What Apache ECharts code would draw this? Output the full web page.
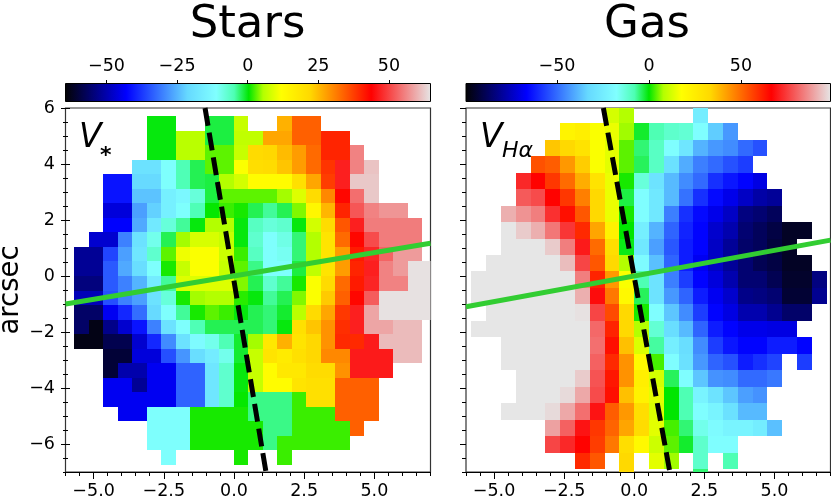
<!DOCTYPE html>
<html>
<head>
<meta charset="utf-8">
<script src="https://cdn.jsdelivr.net/npm/echarts@6/dist/echarts.min.js"></script>
<style>
  html, body { margin: 0; padding: 0; background: #fff; }
  #main { width: 831px; height: 503px; }
</style>
</head>
<body>
<div id="main"></div>
<script>
const n = null;

// velocity per pixel, top row first, leftmost column first (km/s)
const starsRows = [
  [n,n,n,n,n,0,0,n,n,-1.5,-1.5,7,n,n,26,34,34],
  [n,n,n,n,n,0,0,6,6,-1.5,-1.5,6.5,6.5,27,27,34,34,40,40],
  [n,n,n,n,n,0,0,6,6,3,3,7,21.5,22,25,28,33,40,40,55.5],
  [n,n,n,n,-19,-19,-11,-5,-2,3,3,11.5,20.5,21,24,28,33,38.5,46.5,55.5,61.5],
  [n,n,-41,-41,-21,-21,-11,-5,-2,-1.5,5.5,8,12.5,12.5,12.5,20,27,37.5,46.5,62,62],
  [n,n,-41,-41,-23.5,-23.5,-15,-13,-8,-1.5,3,3,3,3,5,9,21,30,43,53.7,62],
  [n,n,-46,-46,-27,-22,-15,-11,-5,0.5,2,1,-2,-4,-2,4,14,25.5,40,51.5,55.5,57.3,57.3],
  [n,n,-43,-43,-26,-17,-8,-4,0,5.5,5.5,0,-6,-8,-7,0,8,21,35,46.5,55,55,55,55],
  [n,-47,-47,-30,-19,-9.5,-2,5,8.5,8.5,7,0,-7,-11,-9,-3,5.5,19,33,43,50.5,55,55,55],
  [-52,-52,-36,-27,-18,-7,3,10.5,11.5,11.5,7.5,2,-6,-11,-10,-3,5.5,19,28,41,47,52.8,57.8,57.8],
  [-52,-52,-34,-26,-20,-11,1,7,11.5,11.5,7,3,-3.5,-11,-11,-1.5,6.5,19,28,40,46.5,55.5,57.8,64.3,64.3],
  [-54,-54,-34,-30,-25,-16,-4,9,9,9,9,4,-2,-7,-4,1,11.5,21.5,33,41,47,55.5,55.5,64.3,64.3],
  [-49,-49,-35,-30,-27,-19,-8,1,5,5.5,5.5,1.5,0,-4,-2,4,11.5,23.5,34,43,52,64.3,64.3,64.3,64.3],
  [-56,-56,-44,-39,-32,-21,-11,-4,1,3,2,0,-2,-3,-1,6,21.5,27,38,46.5,58.7,64.3,64.3,64.3,64.3],
  [-56,-63,-53,-47,-41,-30,-19,-11,-5,-2,-2,-2,-2,-3,0,20,24,29,39,46.5,58.7,58.7,60.7,60.7],
  [-63,-63,-58,-58,-47,-39,-29,-19,-12,-9.5,-5,-1,5,18,26,19,22,29,39.5,39.5,46,60.7,60.7,60.7],
  [n,n,-60,-60,-46,-46,-35,-28,-20,-16,-9.5,-1,7,19,17,20,22,30,30,46,46,46,60.7,60.7],
  [n,n,-60,-50,-50,-44,-44,-33,-33,-18,-7,0,7,12.5,18,18,21,21,29,46,46,46],
  [n,n,-44,-44,-52,-44,-44,-33,-33,-18,-7,0,7,12.5,12.5,19,20,20,34,34,34],
  [n,n,-44,-44,-44,-44,-44,-33,-33,-18,-7,0.5,-3.5,-3.5,-3.5,2,20,20,34,34,34],
  [n,n,n,-44,-44,-11,-11,-11,1,1,1,1,-3.5,-3.5,-3.5,2,2,2,34,34,34],
  [n,n,n,n,n,-11,-11,-11,1,1,1,1,1,-3.5,-3.5,2,2,2,2,34],
  [n,n,n,n,n,-11,-11,-11,1,1,1,1,1,-3.5,2,2,2,2,2],
  [n,n,n,n,n,n,-11,n,n,n,n,1,n,n,2]
];

const gasRows = [
  [n,n,n,n,n,n,n,n,n,12,8,n,n,n,n,-25],
  [n,n,n,n,n,n,22,24,17,15,7,-2,-8,-11,-12,-18,-35,-43],
  [n,n,n,n,n,36,33,29,17,14,4,-5,-10,-18,-28,-39,-43,-45,-50,-54],
  [n,n,n,n,54,52,43,35,17,14,4,-4,-10,-30,-40,-47,-50,-54,-57],
  [n,n,n,72,66,58,50,40,29,15,1,-13,-29,-38,-45,-50,-59,-63,-66,-70],
  [n,n,n,79,77,66,58,47,33,15,-3,-18,-27,-38,-49,-59,-65,-69,-74,-78,-80],
  [n,n,91,87,84,73,64,53,33,15,1,-18,-27,-47,-59,-65,-69,-74,-83,-85,-88],
  [n,n,99,95,91,83,74,60,41,23,0,-24,-39,-51,-61,-66,-73,-77,-85,-88,-91,-95,-95],
  [n,n,99,99,99,95,84,70,50,31,-1,-27,-42,-53,-62,-66,-74,-80,-86,-88,-92,-95],
  [n,99,99,99,99,99,93,76,53,33,8,-19,-37,-51,-62,-68,-74,-80,-85,-89,-91,-95,-95],
  [99,99,99,99,99,99,99,84,61,43,17,-8,-29,-47,-57,-66,-71,-77,-85,-85,-89,-94,-94,-83],
  [99,99,99,99,99,99,99,91,68,48,20,-4,-29,-43,-51,-62,-68,-73,-82,-83,-85,-93,-93,-81],
  [n,99,99,99,99,99,99,98,76,55,33,1,-18,-36,-45,-57,-66,-70,-77,-77,-81,-86,-86],
  [99,99,99,99,99,99,99,99,81,61,33,8,-12,-31,-38,-51,-62,-66,-69,-69,-70,-70],
  [n,n,99,99,99,99,99,99,82,64,37,13,-7,-24,-31,-45,-57,-63,-66,-66,-62,-62,-66],
  [n,n,99,99,99,99,99,99,80,60,44,19,3,-18,-30,-43,-51,-54,-62,-59,-56,n,-57],
  [n,n,n,99,99,99,99,95,78,63,44,24,12,-4,-18,-36,-44,-45,-50,-50,-48],
  [n,n,n,99,99,99,97,90,77,64,37,23,14,0,-8,-22,-29,-36,-42,-44],
  [n,n,99,99,99,97,90,82,69,52,43,31,13,0,-8,-18,-22,-30,-38,-38],
  [n,n,n,n,n,89,80,69,58,51,41,32,14,3,-5,-15,-19,-22,-22,-25,-37],
  [n,n,n,n,n,76,72,66,57,48,31,20,11,4,-2,-11,-18,-18],
  [n,n,n,n,n,n,n,60,53,n,33,n,14,7,n,-11,n,-8],
  [n,n,n,n,n,n,n,n,n,n,33,n,n,n,n,-5]
];

const starsRange = [-64.5, 64.7];
const gasRange = [-99.5, 98.7];
const starsBarTicks = [-50, -25, 0, 25, 50];
const gasBarTicks = [-50, 0, 50];
const xTicks = [-5, -2.5, 0, 2.5, 5];
const yTicks = [-6, -4, -2, 0, 2, 4, 6];
const xMinor = [-6, -5.5, -5, -4.5, -4, -3.5, -3, -2.5, -2, -1.5, -1, -0.5, 0, 0.5, 1, 1.5, 2, 2.5, 3, 3.5, 4, 4.5, 5, 5.5, 6, 6.5, 7];
const yMinor = [-7, -6.5, -6, -5.5, -5, -4.5, -4, -3.5, -3, -2.5, -2, -1.5, -1, -0.5, 0, 0.5, 1, 1.5, 2, 2.5, 3, 3.5, 4, 4.5, 5, 5.5, 6];

// position angle lines, arcsec
const starsMajor = [[-6, -1.0], [7, 1.17]];
const starsMinor = [[-1.03, 6], [1.14, -7]];
const gasMajor = [[-6, -1.1], [7, 1.28]];
const gasMinor = [[-1.1, 6], [1.27, -7]];

// sauron colormap
const cmapStops = [
  [0, [3, 3, 3]],
  [0.1673, [0, 0, 255]],
  [0.3347, [102, 217, 255]],
  [0.4133, [128, 255, 255]],
  [0.4625, [77, 255, 179]],
  [0.5020, [0, 230, 0]],
  [0.5413, [179, 255, 0]],
  [0.5906, [255, 255, 0]],
  [0.6693, [255, 217, 0]],
  [0.8367, [255, 0, 0]],
  [1, [230, 230, 230]]
];

function rampColor(t) {
  let i = 0;
  while (i < cmapStops.length - 2 && t > cmapStops[i + 1][0]) i++;
  const a = cmapStops[i], b = cmapStops[i + 1];
  const f = (t - a[0]) / (b[0] - a[0]);
  const c = a[1].map((v, k) => Math.round(v + (b[1][k] - v) * f));
  return 'rgb(' + c.join(',') + ')';
}
const ramp = [];
for (let i = 0; i < 256; i++) ramp.push(rampColor(i / 255));

const font = '"DejaVu Sans"';
const tickFont = 17.5;

// turn the rows into [left, top, value] in arcsec
function buildCells(rows, x0, y0, dx, dy) {
  const cells = [];
  rows.forEach((row, r) => {
    row.forEach((v, c) => {
      if (v !== null) cells.push([x0 + c * dx, y0 - r * dy, v]);
    });
  });
  return cells;
}

function cellSeries(idx, cells, dx, dy) {
  return {
    type: 'custom',
    xAxisIndex: idx,
    yAxisIndex: idx,
    z: 2,
    silent: true,
    data: cells,
    renderItem: function (params, api) {
      const a = api.coord([api.value(0), api.value(1)]);
      const b = api.coord([api.value(0) + dx, api.value(1) - dy]);
      const x = Math.round(a[0]), y = Math.round(a[1]);
      const rect = echarts.graphic.clipRectByRect(
        { x: x, y: y, width: Math.round(b[0]) - x, height: Math.round(b[1]) - y },
        params.coordSys
      );
      return rect && { type: 'rect', shape: rect, style: { fill: api.visual('color') } };
    }
  };
}

function barSeries(idx, range) {
  return {
    type: 'custom',
    xAxisIndex: idx,
    yAxisIndex: idx,
    silent: true,
    data: [[range[0], range[1]]],
    renderItem: function (params, api) {
      const a = api.coord([api.value(0), 1]);
      const b = api.coord([api.value(1), 0]);
      return {
        type: 'rect',
        shape: { x: a[0], y: a[1], width: b[0] - a[0], height: b[1] - a[1] },
        style: {
          fill: new echarts.graphic.LinearGradient(0, 0, 1, 0,
            cmapStops.map(s => ({ offset: s[0], color: 'rgb(' + s[1].join(',') + ')' }))),
          stroke: '#000',
          lineWidth: 1
        }
      };
    }
  };
}

function lineSeries(idx, data, color, type, z) {
  return {
    type: 'line',
    xAxisIndex: idx,
    yAxisIndex: idx,
    z: z,
    silent: true,
    showSymbol: false,
    data: data,
    lineStyle: { color: color, width: 5, type: type, cap: 'butt' }
  };
}

const minus = s => String(s).replace('-', '\u2212');
const noLine = { show: false, onZero: false };

function xAxes(grid) {
  const base = { type: 'value', gridIndex: grid, position: 'bottom', min: -6, max: 7, splitLine: { show: false }, axisLine: noLine };
  return [
    Object.assign({}, base, {
      axisLine: { show: true, onZero: false, lineStyle: { color: '#000', width: 1.2 } },
      axisTick: { show: true, length: 7, customValues: xTicks, lineStyle: { color: '#000', width: 1 } },
      axisLabel: { show: true, customValues: xTicks, margin: 10, fontFamily: font, fontSize: tickFont, color: '#000',
        formatter: v => minus(v.toFixed(1)) }
    }),
    Object.assign({}, base, {
      axisTick: { show: true, length: 4, customValues: xMinor, lineStyle: { color: '#000', width: 1 } },
      axisLabel: { show: false }
    })
  ];
}

function barAxes(range, ticks) {
  return {
    type: 'value', min: range[0], max: range[1], position: 'top', splitLine: { show: false },
    axisLine: noLine,
    axisTick: { show: true, length: 3.5, customValues: ticks, lineStyle: { color: '#000', width: 1 } },
    axisLabel: { show: true, customValues: ticks, margin: 8, fontFamily: font, fontSize: tickFont, color: '#000', formatter: v => minus(v) }
  };
}

const grids = [
  { left: 65.5, top: 108, width: 365, height: 364 },
  { left: 466, top: 108, width: 364.5, height: 364 },
  { left: 65.5, top: 83.5, width: 365, height: 18 },
  { left: 466, top: 83.5, width: 364.5, height: 18 }
].map((g, i) => Object.assign(g, { outerBoundsMode: 'none' },
  i < 2 ? { show: true, borderColor: '#333', borderWidth: 1.2, backgroundColor: 'transparent' } : { show: false }));

const yBase = { type: 'value', position: 'left', min: -7, max: 6, splitLine: { show: false }, axisLine: noLine };

const xAxisList = [
  ...xAxes(0),
  ...xAxes(1),
  Object.assign(barAxes(starsRange, starsBarTicks), { gridIndex: 2 }),
  Object.assign(barAxes(gasRange, gasBarTicks), { gridIndex: 3 })
];
// indices: 0 stars, 1 stars minor, 2 gas, 3 gas minor, 4/5 colorbars
const yAxisList = [
  Object.assign({}, yBase, {
    gridIndex: 0, offset: 4.5, name: 'arcsec', nameLocation: 'middle', nameGap: 34,
    nameTextStyle: { fontFamily: font, fontSize: 27.5, color: '#000' },
    axisTick: { show: true, inside: true, length: 9, customValues: yTicks, lineStyle: { color: '#000', width: 1 } },
    axisLabel: { show: true, customValues: yTicks, margin: 6, fontFamily: font, fontSize: tickFont, color: '#000', formatter: v => minus(v) }
  }),
  Object.assign({}, yBase, {
    gridIndex: 0, offset: 2.5,
    axisTick: { show: true, inside: true, length: 5, customValues: yMinor, lineStyle: { color: '#000', width: 1 } },
    axisLabel: { show: false }
  }),
  Object.assign({}, yBase, {
    gridIndex: 1,
    axisTick: { show: true, length: 6, customValues: yTicks, lineStyle: { color: '#000', width: 1 } },
    axisLabel: { show: false }
  }),
  Object.assign({}, yBase, {
    gridIndex: 1,
    axisTick: { show: true, length: 4, customValues: yMinor, lineStyle: { color: '#000', width: 1 } },
    axisLabel: { show: false }
  }),
  { type: 'value', gridIndex: 2, min: 0, max: 1, show: false },
  { type: 'value', gridIndex: 3, min: 0, max: 1, show: false }
];

// cell sizes in arcsec, the gas map has taller pixels
const starsDx = 0.5164, starsDy = 0.5179;
const gasDx = 0.5278, gasDy = 0.5879;

const myChart = echarts.init(document.getElementById('main'));

const option = {
  animation: false,
  title: [
    { text: 'Stars', left: 247.5, top: 3, padding: 0, textAlign: 'center', textStyle: { fontFamily: font, fontSize: 45, fontWeight: 'normal', color: '#000' } },
    { text: 'Gas', left: 647, top: 3, padding: 0, textAlign: 'center', textStyle: { fontFamily: font, fontSize: 45, fontWeight: 'normal', color: '#000' } }
  ],
  grid: grids,
  xAxis: xAxisList,
  yAxis: yAxisList,
  visualMap: [
    { show: false, type: 'continuous', seriesIndex: 0, dimension: 2, min: starsRange[0], max: starsRange[1], inRange: { color: ramp } },
    { show: false, type: 'continuous', seriesIndex: 1, dimension: 2, min: gasRange[0], max: gasRange[1], inRange: { color: ramp } }
  ],
  series: [
    cellSeries(0, buildCells(starsRows, -11 * starsDx, 11 * starsDy, starsDx, starsDy), starsDx, starsDy),
    cellSeries(2, buildCells(gasRows, -11 * gasDx, 6.04, gasDx, gasDy), gasDx, gasDy),
    lineSeries(0, starsMinor, '#000', [18, 7], 3),
    lineSeries(0, starsMajor, '#32cd32', 'solid', 4),
    lineSeries(2, gasMinor, '#000', [18, 7], 3),
    lineSeries(2, gasMajor, '#32cd32', 'solid', 4),
    barSeries(4, starsRange),
    barSeries(5, gasRange)
  ],
  graphic: [
    { type: 'text', x: 79, y: 122, z: 10, style: { text: 'V', font: 'italic 33px ' + font, fill: '#000' } },
    { type: 'text', x: 100, y: 145, z: 10, style: { text: '*', font: 'bold 22px ' + font, fill: '#000' } },
    { type: 'text', x: 480, y: 122, z: 10, style: { text: 'V', font: 'italic 33px ' + font, fill: '#000' } },
    { type: 'text', x: 502, y: 140, z: 10, style: { text: 'H\u03b1', font: 'italic 22px ' + font, fill: '#000' } }
  ]
};

myChart.setOption(option);
</script>
</body>
</html>
